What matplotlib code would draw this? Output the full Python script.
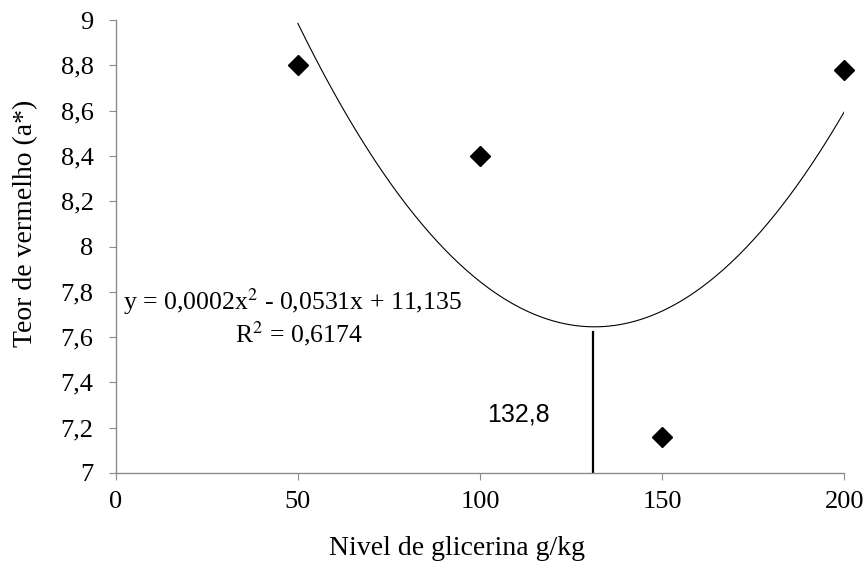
import numpy as np
import matplotlib.pyplot as plt

# dados
nivel = [50, 100, 150, 200]
teor = [8.80, 8.40, 7.16, 8.78]
x_ticks = [0, 50, 100, 150, 200]
y_ticks = [7, 7.2, 7.4, 7.6, 7.8, 8, 8.2, 8.4, 8.6, 8.8, 9]
ponto_min = 131.0
eq_txt = 'y = 0,0002x$^2$ - 0,0531x + 11,135'
r2_txt = 'R$^2$ = 0,6174'
min_txt = '132,8'

plt.rcParams['font.family'] = ['Liberation Serif', 'DejaVu Serif']
plt.rcParams['mathtext.fontset'] = 'stix'

fig = plt.figure(figsize=(8.67, 5.67), dpi=100)
ax = fig.add_axes([0.1335, 0.1658, 0.8403, 0.7989])

# linha de tendencia polinomial (ordem 2), como no Excel
coef = np.polyfit(nivel, teor, 2)
xs = np.linspace(min(nivel), max(nivel), 300)
ax.plot(xs, np.polyval(coef, xs), color='black', lw=0.8)

ax.plot(nivel, teor, linestyle='none', marker='D', ms=10.5, color='black', clip_on=False, zorder=5)

ax.plot([ponto_min, ponto_min], [7, np.polyval(coef, ponto_min) - 0.025], color='black', lw=1.6)

ax.set_xlim(0, 200)
ax.set_ylim(7, 9)
ax.set_xticks(x_ticks)
ax.set_yticks(y_ticks)
ax.set_yticklabels([f'{v:g}'.replace('.', ',') for v in y_ticks])

for s in ['top', 'right']:
    ax.spines[s].set_visible(False)
for s in ['left', 'bottom']:
    ax.spines[s].set_color('#8c8c8c')
    ax.spines[s].set_linewidth(1.0)
ax.tick_params(direction='out', length=5, color='#8c8c8c', labelsize=19)
ax.tick_params(axis='y', pad=11)
ax.tick_params(axis='x', pad=8)

ax.set_xlabel('Nivel de glicerina g/kg', fontsize=20)
ax.set_ylabel('Teor de vermelho (a*)', fontsize=20)
ax.xaxis.set_label_coords(0.468, -0.138)
ax.yaxis.set_label_coords(-0.106, 0.552)

ax.text(2.0, 7.755, eq_txt, fontsize=18.5, ha='left', va='center')
ax.text(50.3, 7.615, r2_txt, fontsize=18.5, ha='center', va='center')
ax.text(102, 7.26, min_txt, fontsize=18, ha='left', va='center', family=['Liberation Sans', 'DejaVu Sans'])

fig.savefig('out.png', dpi=100)
